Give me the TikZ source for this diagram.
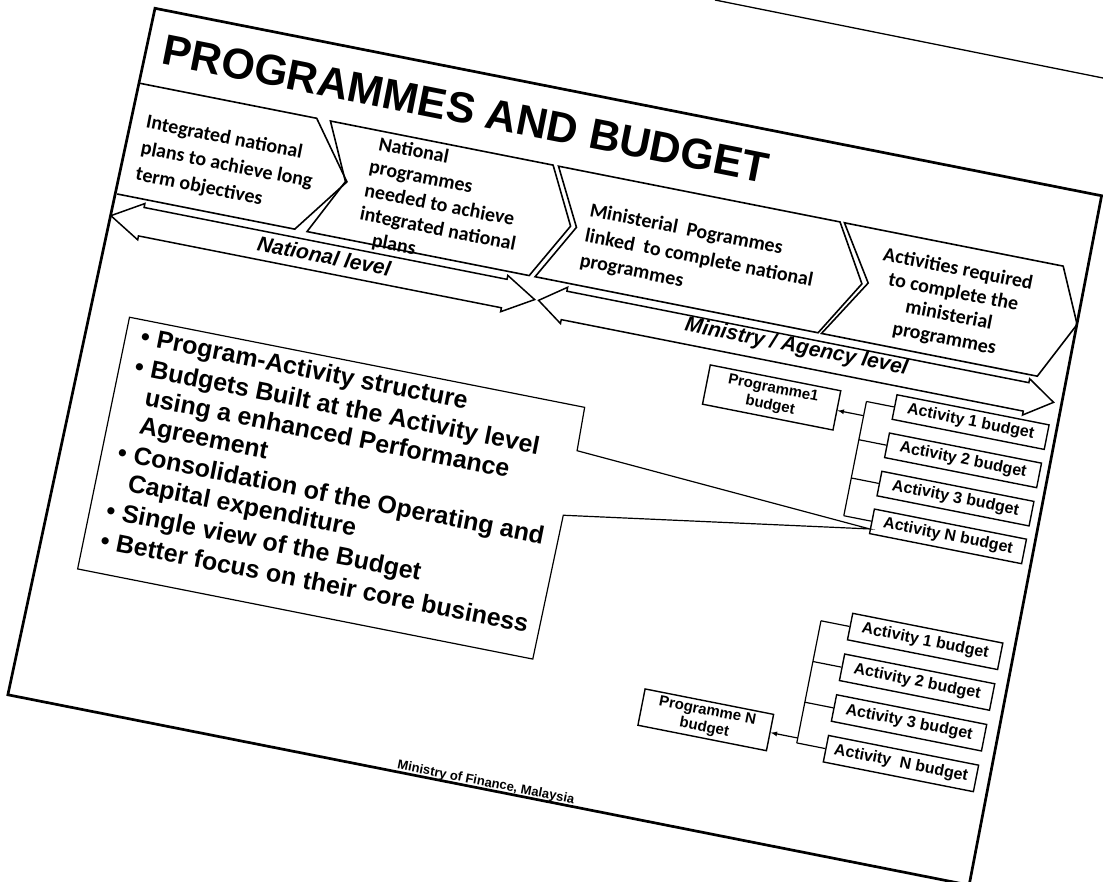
\documentclass[tikz,border=0pt]{standalone}
\usepackage{fontspec}
\setmainfont{Liberation Sans}
\newfontfamily\slidefont{Liberation Sans}
\newfontfamily\boxfont{Carlito}
\usepackage{tikz}
\usetikzlibrary{calc}

\begin{document}
\begin{tikzpicture}
    [
    x=1pt, y=1pt,
    chevron/.style={draw, line width=1.6pt, line join=miter},
    chevtext/.style={inner sep=0pt, align=left, font=\boxfont\bfseries\fontsize{20}{#1}\selectfont},
    chevtext/.default=25,
    levelarrow/.style={draw, line width=1.5pt, line join=miter},
    leveltext/.style={inner sep=0pt, font=\slidefont\bfseries\itshape\fontsize{21}{24}\selectfont},
    budget/.style={draw, line width=1.4pt, inner sep=0pt, minimum width=155pt, minimum height=25pt, font=\slidefont\bfseries\fontsize{16}{18}\selectfont},
    programme/.style={draw, line width=1.4pt, inner sep=0pt, minimum width=133pt, minimum height=40pt, align=center, font=\slidefont\bfseries\fontsize{15}{17}\selectfont},
    link/.style={line width=1.2pt}
    ]
    \useasboundingbox (0,0) rectangle (1103,-881);
    \draw [line width=1.3pt] (715,0) -- (1103,-78);

    \begin{scope}[shift={(155,-8.3)}, rotate=-11.2, y=-1pt, transform shape]
    % slide
    \draw [line width=2.7pt, line join=miter] (0,0) -- (965,0) -- (969,702) -- (-11,702) -- cycle;
    \node (title) at (16,53) [anchor=base west, inner sep=0pt, font=\slidefont\bfseries\fontsize{43}{50}\selectfont] {PROGRAMMES AND BUDGET};

    % chevrons
    \draw [chevron] (0,76.5) -- (180,76.5) -- (222,133) -- (180,189.5) -- (-1,189.5);
    \draw [chevron] (194,76.5) -- (421,76.5) -- (450,133) -- (419,189.5) -- (192.5,189.5) -- (220.5,133) -- cycle;
    \draw [chevron] (426.5,76.5) -- (713.5,76.5) -- (747,133) -- (713.5,189.5) -- (425,189.5) -- (456,133) -- cycle;
    \draw [chevron] (718,76.5) -- (941,76.5) -- (966,131) -- (937,189.5) -- (717,189.5) -- (753,131) -- cycle;
    \node (plans) at (13.5,105) [chevtext=26.5, anchor=north west] {Integrated national\\plans to achieve long\\term objectives};
    \node (natprog) at (241,81.5) [chevtext=24, anchor=north west] {\hspace*{5pt}National\\programmes\\needed to achieve\\integrated national\\\hspace*{17pt}plans};
    \node (minprog) at (466,105.5) [chevtext=25.5, anchor=north west] {Ministerial\ \ Pogrammes\\linked\ \ to complete national\\programmes};
    \node (acts) at (838.5,91.5) [chevtext=23.6, anchor=north, align=center] {Activities required\\to complete the\\ministerial\\programmes};

    % level arrows
    \draw [levelarrow] (-3,212) -- (28,193.5) -- (28,197.5) -- (398,197.5) -- (398,193.5) -- (429,212) -- (398,230.5) -- (398,226.5) -- (28,226.5) -- (28,230.5) -- cycle;
    \draw [levelarrow] (433,212) -- (459,193.5) -- (459,197.5) -- (930,197.5) -- (930,193.5) -- (958,212) -- (930,230.5) -- (930,226.5) -- (459,226.5) -- (459,230.5) -- cycle;
    \node (natlevel) at (214,210) [leveltext] {National level};
    \node (minlevel) at (695,208) [leveltext] {Ministry / Agency level};

    % first programme
    \node (prog1) at (680.5,262) [programme] {Programme1\\budget};
    \node (act1a) at (880.5,247.5) [budget] {Activity 1 budget};
    \node (act2a) at (880.5,286.5) [budget] {Activity 2 budget};
    \node (act3a) at (880.5,325.5) [budget] {Activity 3 budget};
    \node (actNa) at (880.5,364) [budget] {Activity N budget};
    \draw [link] (act1a.west) -- ++(-28,0) coordinate (top1);
    \draw [link] (actNa.west) -- ++(-28,0) coordinate (bot1);
    \draw [link] (top1) -- (bot1);
    \draw [link] (act2a.west) -- ++(-28,0);
    \draw [link] (act3a.west) -- ++(-28,0);
    \draw [link, -latex] ($(top1)!(prog1.east)!(bot1)$) -- (prog1.east);

    % last programme
    \node (progN) at (678.5,591) [programme, minimum width=131pt, minimum height=37pt] {Programme N\\budget};
    \node (act1b) at (878.5,471.5) [budget, minimum width=153pt, minimum height=27pt] {Activity 1 budget};
    \node (act2b) at (878.5,513) [budget, minimum width=153pt, minimum height=27pt] {Activity 2 budget};
    \node (act3b) at (878.5,554.5) [budget, minimum width=153pt, minimum height=27pt] {Activity 3 budget};
    \node (actNb) at (878.5,596) [budget, minimum width=153pt, minimum height=27pt] {Activity\ \ N budget};
    \draw [link] (act1b.west) -- ++(-29,0) coordinate (top2);
    \draw [link] (actNb.west) -- ++(-29,0) coordinate (bot2);
    \draw [link] (top2) -- (bot2);
    \draw [link] (act2b.west) -- ++(-29,0);
    \draw [link] (act3b.west) -- ++(-29,0);
    \draw [link, -latex] ($(top2)!(progN.east)!(bot2)$) -- (progN.east);

    % callout
    \draw [link, line join=miter] (35,308) -- (499,308) -- (500,352) -- ($(actNa.south west)!0.2!(actNa.north west)$) -- (499,418) -- (497,565) -- (33,565) -- cycle;
    \node (points) at (50,314.5) [anchor=north west, inner sep=0pt, align=left, font=\slidefont\bfseries\fontsize{25}{28.5}\selectfont]
      {\makebox[16pt][l]{\textbullet}Program-Activity structure\\[2pt]
       \makebox[16pt][l]{\textbullet}Budgets Built at the Activity level\\
       \hspace*{16pt}using a enhanced Performance\\
       \hspace*{16pt}Agreement\\[2pt]
       \makebox[16pt][l]{\textbullet}Consolidation of the Operating and\\
       \hspace*{16pt}Capital expenditure\\[2pt]
       \makebox[16pt][l]{\textbullet}Single view of the Budget\\[2pt]
       \makebox[16pt][l]{\textbullet}Better focus on their core business};

    \node (source) at (475,699) [anchor=base, inner sep=0pt, font=\slidefont\bfseries\fontsize{13}{15}\selectfont] {Ministry of Finance, Malaysia};
    \end{scope}
\end{tikzpicture}
\end{document}
